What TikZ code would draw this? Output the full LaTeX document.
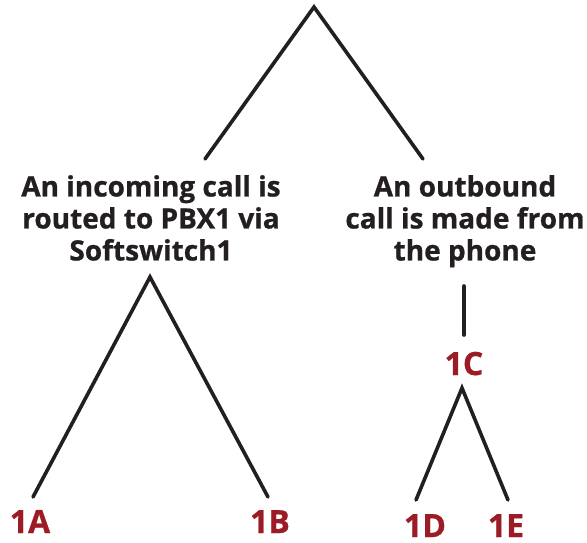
\documentclass[tikz,border=0pt]{standalone}
\usepackage{fontspec}
\setmainfont{Open Sans}[BoldFeatures={FakeBold=0.8}]
\definecolor{ink}{HTML}{231F20}
\definecolor{caseRed}{HTML}{9B1C24}
\tikzset{
  branch/.style={line width=3.6pt,color=ink,line cap=round,line join=miter},
  event/.style={align=center,inner sep=0pt,anchor=north,text=ink,font=\bfseries\fontsize{28}{32}\selectfont},
  caselabel/.style={inner sep=0pt,anchor=base,text=caseRed,font=\bfseries\fontsize{32}{36}\selectfont}
}
\begin{document}
\begin{tikzpicture}[x=1pt,y=-1pt]
			\useasboundingbox (0,0) rectangle (587,542);
			% top split
			\coordinate (root) at (314,7);
			\coordinate (rootL) at (205,159);
			\coordinate (rootR) at (423,159);
			\draw [branch] (rootL) -- (root) -- (rootR);
			\node[event] (incoming) at (151,175) {An incoming call is\\routed to PBX1 via\\Softswitch1};
			\node[event] (outbound) at (465,175) {An outbound\\call is made from\\the phone};
			% left subtree
			\coordinate (inTop) at (150,277);
			\coordinate (inL) at (33,497);
			\coordinate (inR) at (268,497);
			\draw [branch] (inL) -- (inTop) -- (inR);
			\node[caselabel] (caseA) at (30,533) {1A};
			\node[caselabel] (caseB) at (270,533) {1B};
			% right subtree
			\coordinate (outTop) at (464,286);
			\coordinate (outBot) at (464,335);
			\draw [branch] (outTop) -- (outBot);
			\node[caselabel] (caseC) at (464,375) {1C};
			\coordinate (cTop) at (462,388);
			\coordinate (cL) at (416,500);
			\coordinate (cR) at (508,500);
			\draw [branch] (cL) -- (cTop) -- (cR);
			\node[caselabel] (caseD) at (425,537) {1D};
			\node[caselabel] (caseE) at (506,537) {1E};
		\end{tikzpicture}
\end{document}
